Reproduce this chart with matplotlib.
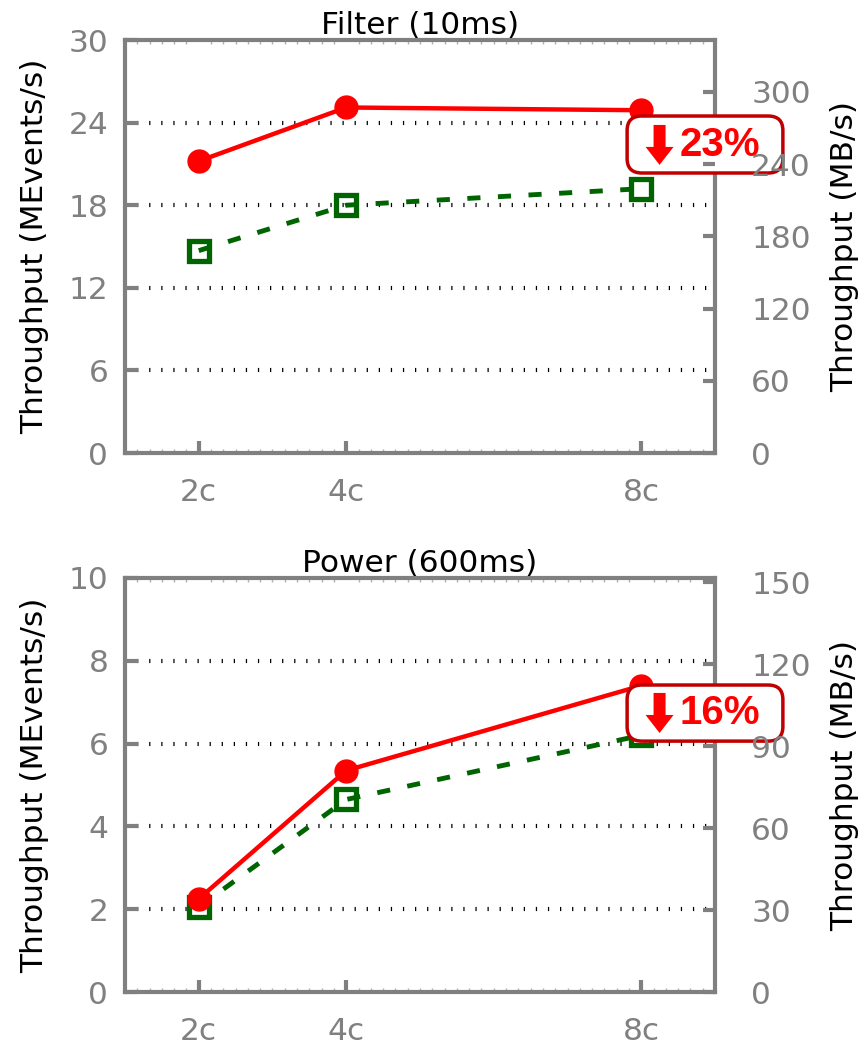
import numpy as np
import matplotlib.pyplot as plt
from matplotlib.ticker import MultipleLocator, FixedLocator
from matplotlib.patches import FancyBboxPatch, Polygon

# data
cores = [2, 4, 8]
core_labels = ['2c', '4c', '8c']

filter_red = [21.2, 25.1, 24.9]
filter_green = [14.7, 18.0, 19.2]
power_red = [2.25, 5.35, 7.4]
power_green = [2.05, 4.65, 6.2]

drops = ['23%', '16%']
titles = ['Filter (10ms)', 'Power (600ms)']
left_ticks = [[0, 6, 12, 18, 24, 30], [0, 2, 4, 6, 8, 10]]
right_ticks = [[0, 60, 120, 180, 240, 300], [0, 30, 60, 90, 120, 150]]
right_max = [343, 151.5]

GRAY = '#808080'
RED = '#ff0000'
GREEN = '#006400'

fig = plt.figure(figsize=(8.62, 10.45), dpi=100)
ax_top = fig.add_axes([0.145, 0.5665, 0.6845, 0.3952])
ax_bot = fig.add_axes([0.145, 0.0507, 0.6845, 0.3962])

panels = [(ax_top, filter_red, filter_green), (ax_bot, power_red, power_green)]
# label box position (axes fraction): bottom, height, text centre y
box_y = [(0.678, 0.138, 0.746), (0.606, 0.1355, 0.674)]

# down arrow outline in pixels (relative to its top centre)
arrow_px = np.array([(-6, 0), (6, 0), (6, -22), (14, -22), (0, -40),
                     (-14, -22), (-6, -22)], dtype=float)

for k, (ax, red, green) in enumerate(panels):
    yt = left_ticks[k]
    ax.set_xlim(1, 9)
    ax.set_ylim(yt[0], yt[-1])

    # dotted grid at inner y ticks
    for y in yt[1:-1]:
        ax.axhline(y, color='black', lw=3, dashes=(0.3, 2.6),
                   dash_capstyle='butt', zorder=1)

    ax.plot(cores, green, color=GREEN, lw=3.5, dashes=(2.7, 3.6),
            marker='s', ms=14, mew=3.8, mfc='none', mec=GREEN, zorder=3)
    ax.plot(cores, red, color=RED, lw=3.2, marker='o', ms=16.5,
            mfc=RED, mec=RED, zorder=4)

    for s in ax.spines.values():
        s.set_color(GRAY)
        s.set_linewidth(3)

    ax.xaxis.set_major_locator(FixedLocator(cores))
    ax.set_xticklabels(core_labels)
    ax.xaxis.set_minor_locator(MultipleLocator(1 / 6))
    ax.tick_params(axis='x', which='major', direction='in', length=9, width=3,
                   color=GRAY, labelcolor=GRAY, labelsize=22.5, pad=18)
    ax.tick_params(axis='x', which='minor', direction='in', length=3, width=1,
                   color='#b0b0b0', top=True, bottom=True)
    ax.set_yticks(yt)
    ax.tick_params(axis='y', direction='in', length=9, width=3, color=GRAY,
                   labelcolor=GRAY, labelsize=22.5, pad=12)
    ax.set_ylabel('Throughput (MEvents/s)', fontsize=22.5, labelpad=14)
    ax.set_title(titles[k], fontsize=22.5, pad=3)

    axr = ax.twinx()
    axr.set_ylim(0, right_max[k])
    axr.set_yticks(right_ticks[k])
    axr.tick_params(axis='y', direction='in', length=9, width=3, color=GRAY,
                    labelcolor=GRAY, labelsize=22.5, pad=26)
    for s in axr.spines.values():
        s.set_visible(False)
    axr.set_ylabel('Throughput (MB/s)', fontsize=22.5, labelpad=14)

    # drop label box
    y0, h, yc = box_y[k]
    box = FancyBboxPatch((0.851, y0), 0.264, h, transform=ax.transAxes,
                         boxstyle='round,pad=0,rounding_size=0.025',
                         fc='white', ec='#c00000', lw=2.5, zorder=10,
                         clip_on=False, mutation_aspect=1.4)
    ax.add_patch(box)
    w_px, h_px = 590.0, 413.5
    pts = np.column_stack([0.906 + arrow_px[:, 0] / w_px,
                           yc + (20 + arrow_px[:, 1]) / h_px])
    ax.add_patch(Polygon(pts, closed=True, transform=ax.transAxes, fc=RED,
                         ec='none', zorder=11, clip_on=False))
    ax.text(1.008, yc, drops[k], transform=ax.transAxes, ha='center',
            va='center', fontsize=29, fontweight='bold', color=RED, zorder=11,
            family=['Liberation Sans', 'DejaVu Sans'])

fig.savefig('out.png', dpi=100)
